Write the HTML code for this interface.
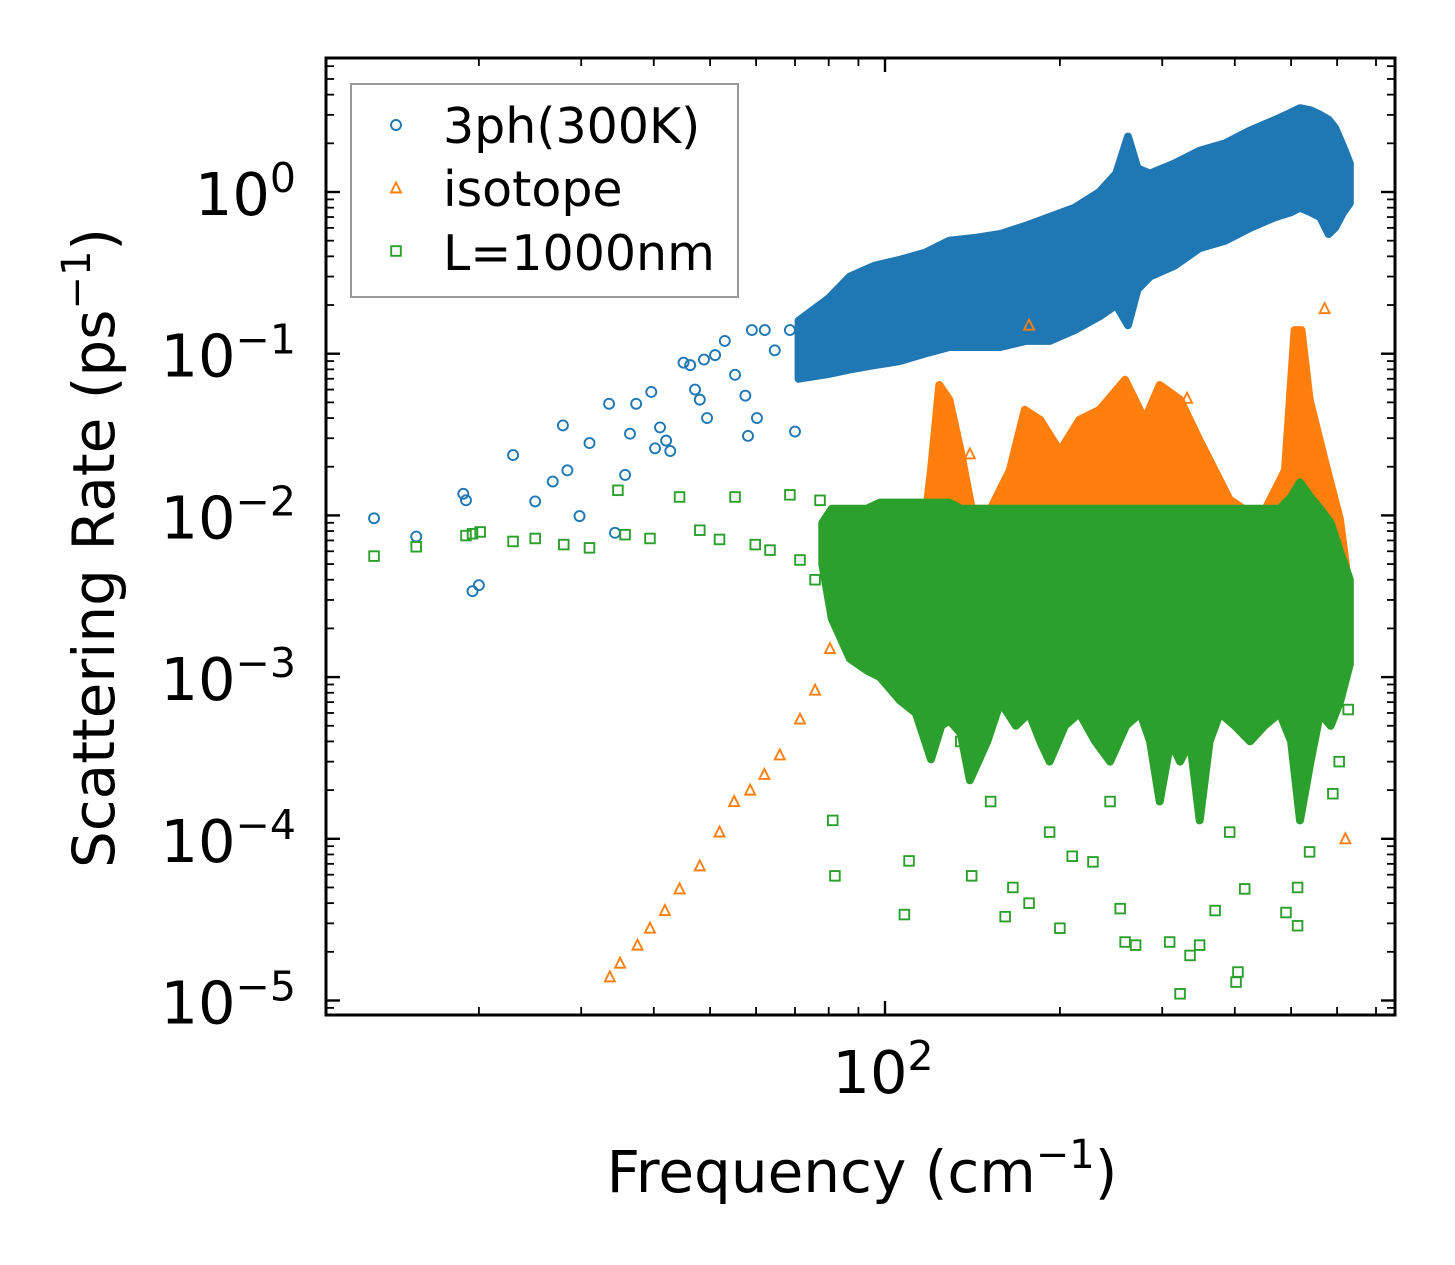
<!DOCTYPE html>
<html><head><meta charset="utf-8"><style>
html,body{margin:0;padding:0;background:#fff;}
svg{display:block;font-family:"DejaVu Sans","Liberation Sans",sans-serif;}
</style></head><body>
<svg id="chart" width="1455" height="1265" viewBox="0 0 1455 1265" xmlns="http://www.w3.org/2000/svg">
<rect width="1455" height="1265" fill="#fff"/>
<g id="plot"></g>
<g id="axes"></g>
</svg>
<script>
// ---- data ----
const blueFreq=[13.2,15.6,18.8,19.0,19.5,20.0,22.9,25.0,26.8,27.9,28.4,29.8,31.0,33.5,34.3,35.7,36.4,37.3,39.6,40.2,41.0,42.0,42.7,45.0,46.2,47.1,48.0,48.8,49.4,51.0,53.0,55.2,57.5,58.1,59.0,60.2,62.1,64.6,68.6,70.0,74.3];
const blueRate=[0.0096,0.0074,0.0136,0.0124,0.0034,0.0037,0.0236,0.0122,0.0162,0.036,0.019,0.0099,0.028,0.049,0.0078,0.0178,0.032,0.049,0.058,0.026,0.035,0.029,0.025,0.088,0.085,0.060,0.052,0.092,0.040,0.098,0.12,0.074,0.055,0.031,0.14,0.040,0.14,0.105,0.14,0.033,0.091];
const blueBandFreq=[71,80,87,96,106,117,129,143,158,175,192,212,234,250,262,272,286,315,348,385,425,470,500,518,540,561,580,595,615,631];
const blueBandLo=[0.07,0.075,0.08,0.085,0.09,0.10,0.11,0.11,0.11,0.12,0.12,0.14,0.17,0.2,0.15,0.25,0.3,0.35,0.45,0.5,0.6,0.7,0.75,0.8,0.75,0.7,0.55,0.6,0.75,0.85];
const blueBandHi=[0.16,0.22,0.3,0.35,0.38,0.42,0.5,0.52,0.55,0.62,0.7,0.8,1.0,1.3,2.2,1.4,1.3,1.5,1.8,2.0,2.4,2.8,3.1,3.3,3.2,3.0,2.8,2.5,1.9,1.5];
const orangeFreq=[33.6,35,37.5,39.4,41.8,44.3,48,51.9,55,58.6,62,65.9,71.4,75.8,80.4,85.3,90.5,96,177,571,620,140,331];
const orangeRate=[1.4e-5,1.7e-5,2.2e-5,2.8e-5,3.6e-5,4.9e-5,6.8e-5,1.1e-4,1.7e-4,2e-4,2.5e-4,3.3e-4,5.5e-4,8.3e-4,1.5e-3,2e-3,2.6e-3,3e-3,0.15,0.19,1e-4,0.024,0.053];
const orangeBandFreq=[98,115,120,124,129,135,141,152,164,174,185,200,216,234,259,280,297,322,348,392,442,488,507,521,538,571,607,626];
const orangeBandLo=[0.0018,0.0015,0.0015,0.0015,0.0015,0.0015,0.0015,0.0015,0.0015,0.0015,0.0015,0.0015,0.0015,0.0015,0.0015,0.0015,0.0015,0.0015,0.0015,0.0015,0.0015,0.0015,0.0015,0.0015,0.0015,0.0015,0.0015,0.0018];
const orangeBandHi=[0.003,0.0053,0.019,0.064,0.052,0.025,0.011,0.011,0.019,0.045,0.039,0.025,0.039,0.045,0.069,0.039,0.064,0.052,0.029,0.0125,0.0094,0.019,0.14,0.14,0.052,0.022,0.0094,0.004];
const greenFreq=[13.2,15.6,19,19.5,20.1,22.9,25,28,31,34.7,35.7,39.4,44.3,48,51.9,55.2,59.8,63.4,68.6,71.4,75.8,77.3,81.3,82,108,110,141,161,166,177,200,210,228,254,259,270,309,322,335,348,370,402,405,416,513,513,490,538,590,605,627,135,152,192,244,392];
const greenRate=[0.0056,0.0064,0.0075,0.0077,0.0079,0.0069,0.0072,0.0066,0.0063,0.0143,0.0076,0.0072,0.0130,0.0081,0.0071,0.013,0.0066,0.0061,0.0134,0.0053,0.004,0.0124,1.3e-4,5.9e-5,3.4e-5,7.3e-5,5.9e-5,3.3e-5,5e-5,4e-5,2.8e-5,7.8e-5,7.2e-5,3.7e-5,2.3e-5,2.2e-5,2.3e-5,1.1e-5,1.9e-5,2.2e-5,3.6e-5,1.3e-5,1.5e-5,4.9e-5,2.9e-5,5e-5,3.5e-5,8.3e-5,1.9e-4,3e-4,6.3e-4,4e-4,1.7e-4,1.1e-4,1.7e-4,1.1e-4];
const greenBandFreq=[78,81,87,93,98,106,113,120,125,129,135,140,150,158,168,177,185,192,204,216,230,244,260,275,286,297,310,322,335,348,362,377,400,425,450,478,500,518,540,561,585,607,631];
const greenBandLo=[0.005,0.0023,0.0013,0.0011,0.001,0.00072,0.0006,0.00031,0.0005,0.00054,0.00045,0.00023,0.0004,0.0007,0.0005,0.0006,0.0004,0.0003,0.0005,0.0006,0.0004,0.0003,0.0005,0.0006,0.0004,0.00017,0.0004,0.0003,0.0004,0.00013,0.0004,0.0006,0.0005,0.0004,0.0005,0.0006,0.0004,0.00013,0.0003,0.0006,0.0005,0.0007,0.0012];
const greenBandHi=[0.009,0.011,0.011,0.011,0.012,0.012,0.012,0.012,0.012,0.012,0.011,0.011,0.011,0.011,0.011,0.011,0.011,0.011,0.011,0.011,0.011,0.011,0.011,0.011,0.011,0.011,0.011,0.011,0.011,0.011,0.011,0.011,0.011,0.011,0.011,0.011,0.013,0.016,0.013,0.011,0.009,0.006,0.004];
const yTickExp=[0,-1,-2,-3,-4,-5];
const xTickExp=[2];

// ---- axes ----
const X0=326,X1=1395,Y0=58,Y1=1015;
const DEC_X=581, X100=885, DEC_Y=161.7, Y1E0=192;
function xs(f){return X100+(Math.log10(f)-2)*DEC_X;}
function ys(r){return Y1E0-Math.log10(r)*DEC_Y;}
const NS="http://www.w3.org/2000/svg";
function mk(tag,attrs,parent){const e=document.createElementNS(NS,tag);for(const k in attrs)e.setAttribute(k,attrs[k]);parent.appendChild(e);return e;}
const plot=document.getElementById('plot'),axes=document.getElementById('axes');
const cp=mk('clipPath',{id:'clip'},plot);mk('rect',{x:X0,y:Y0,width:X1-X0,height:Y1-Y0},cp);
const g=mk('g',{'clip-path':'url(#clip)'},plot);

function band(F,L,H,color,name){
  let pts=F.map((f,i)=>xs(f).toFixed(1)+','+ys(H[i]).toFixed(1));
  for(let i=F.length-1;i>=0;i--)pts.push(xs(F[i]).toFixed(1)+','+ys(L[i]).toFixed(1));
  const p=mk('polygon',{points:pts.join(' '),fill:color,stroke:color,'stroke-width':8,'stroke-linejoin':'round'},g);
  
  
}
function marker(type,cx,cy,color,parent){
  let e;
  if(type==='o')e=mk('circle',{cx:cx,cy:cy,r:5,fill:'none',stroke:color,'stroke-width':1.9},parent);
  else if(type==='s')e=mk('rect',{x:cx-4.8,y:cy-4.8,width:9.6,height:9.6,fill:'none',stroke:color,'stroke-width':1.9},parent);
  else e=mk('polygon',{points:`${cx},${cy-5.5} ${cx-5},${cy+4.5} ${cx+5},${cy+4.5}`,fill:'none',stroke:color,'stroke-width':1.9},parent);
  return e;
}
function pts(F,R,type,color,name){
  F.forEach((f,i)=>{const e=marker(type,xs(f),ys(R[i]),color,g);
    
    });
}
band(blueBandFreq,blueBandLo,blueBandHi,'#1f77b4','3ph-dense-band');
pts(blueFreq,blueRate,'o','#1f77b4','3ph-point');
band(orangeBandFreq,orangeBandLo,orangeBandHi,'#ff7f0e','isotope-dense-band');
pts(orangeFreq,orangeRate,'t','#ff7f0e','isotope-point');
band(greenBandFreq,greenBandLo,greenBandHi,'#2ca02c','boundary-dense-band');
pts(greenFreq,greenRate,'s','#2ca02c','boundary-point');

// ticks
function tick(x1,y1,x2,y2,w){mk('line',{x1:x1,y1:y1,x2:x2,y2:y2,stroke:'#000','stroke-width':w||2},axes);}
for(let e=-6;e<=1;e++){
  for(let m=1;m<10;m++){
    const y=ys(m*Math.pow(10,e));if(y<Y0+2||y>Y1-2)continue;
    const L=m===1?14:8;tick(X0,y,X0+L,y,m===1?2.4:1.8);tick(X1,y,X1-L,y,m===1?2.4:1.8);
  }
}
for(let e=1;e<=3;e++){
  for(let m=1;m<10;m++){
    const x=xs(m*Math.pow(10,e));if(x<X0+2||x>X1-2)continue;
    const L=m===1?14:8;tick(x,Y1,x,Y1-L,m===1?2.4:1.8);tick(x,Y0,x,Y0+L,m===1?2.4:1.8);
  }
}
mk('rect',{x:X0,y:Y0,width:X1-X0,height:Y1-Y0,fill:'none',stroke:'#000','stroke-width':3},axes);
yTickExp.forEach(e=>{
  const t=mk('text',{x:296,y:ys(Math.pow(10,e))+23,'text-anchor':'end','font-size':59,fill:'#000'},axes);
  
  
  t.innerHTML='10<tspan dy="-23" font-size="41">'+(e<0?'\u2212'+(-e):e)+'</tspan>';
});
xTickExp.forEach(e=>{
  const t=mk('text',{x:xs(Math.pow(10,e))-2,y:1093,'text-anchor':'middle','font-size':59,fill:'#000'},axes);
  
  
  t.innerHTML='10<tspan dy="-23" font-size="41">'+e+'</tspan>';
});
</script>
<svg style="position:absolute;left:0;top:0" width="1455" height="1265">
<text x="862" y="1192" text-anchor="middle" font-size="58" font-family="DejaVu Sans, Liberation Sans, sans-serif">Frequency (cm<tspan dy="-24" font-size="40">−1</tspan><tspan dy="24">)</tspan></text>
<text transform="translate(114,548) rotate(-90)" text-anchor="middle" font-size="58" font-family="DejaVu Sans, Liberation Sans, sans-serif">Scattering Rate (ps<tspan dy="-24" font-size="40">−1</tspan><tspan dy="24">)</tspan></text>
<g font-family="DejaVu Sans, Liberation Sans, sans-serif" font-size="49">
<rect x="351" y="84" width="387" height="213" fill="#fff" fill-opacity="0.8" stroke="#999" stroke-width="2"/>
<circle cx="396" cy="125" r="5" fill="none" stroke="#1f77b4" stroke-width="1.9"/>
<text x="443" y="143">3ph(300K)</text>
<polygon points="396,182.5 391,192.5 401,192.5" fill="none" stroke="#ff7f0e" stroke-width="1.9"/>
<text x="443" y="206">isotope</text>
<rect x="391.2" y="246.2" width="9.6" height="9.6" fill="none" stroke="#2ca02c" stroke-width="1.9"/>
<text x="443" y="270">L=1000nm</text>
</g>
</svg>
</body></html>
